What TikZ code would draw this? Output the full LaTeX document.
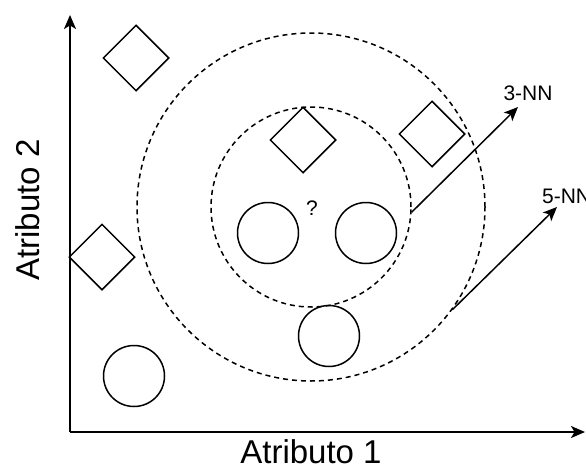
\documentclass[tikz,border=0pt]{standalone}
\usepackage{fontspec}
\setmainfont{Liberation Sans}
\usetikzlibrary{shapes.geometric,arrows.meta}

\begin{document}
\begin{tikzpicture}[x=1pt, y=-1pt, line width=1.5pt,
  diam/.style={draw, diamond, aspect=1, minimum size=66pt, inner sep=0pt},
  pt/.style={draw, circle, minimum size=61pt, inner sep=0pt},
  ring/.style={draw, circle, dash pattern=on 5pt off 4pt, inner sep=0pt},
  arr/.style={-{Stealth[length=14pt,width=12pt,inset=3.5pt]}},
  small/.style={font=\fontsize{21}{25}\selectfont},
  big/.style={font=\fontsize{33}{40}\selectfont}]
  \useasboundingbox (0,0) rectangle (586,471);

  % axes
  \coordinate (o) at (70,432);
  \coordinate (ytop) at (70,15);
  \coordinate (xend) at (585,432);
  \draw[arr] (o) -- (ytop);
  \draw[arr] (o) -- (xend);
  \node[big] (xlab) at (311,452) {Atributo 1};
  \node[big, rotate=90] (ylab) at (28,210) {Atributo 2};

  % neighbourhoods
  \node[ring, minimum size=348pt] (knn5) at (311,207) {};
  \node[ring, minimum size=200pt] (knn3) at (311,207) {};

  % class A
  \node[diam] (d1) at (136,58) {};
  \node[diam] (d2) at (102,257) {};
  \node[diam] (d3) at (303,140) {};
  \node[diam] (d4) at (432,134) {};

  % class B
  \node[pt] (c1) at (268,233) {};
  \node[pt] (c2) at (366,233) {};
  \node[pt] (c3) at (329,336) {};
  \node[pt] (c4) at (134,376) {};

  \node[small] (q) at (312,208) {?};

  % k labels
  \node[small] (l3) at (528,93) {3-NN};
  \node[small, anchor=west] (l5) at (538,196) {5-NN};
  \coordinate (t3) at (518,107);
  \coordinate (t5) at (557,207);
  \draw[arr] (knn3.-3) -- (t3);
  \draw[arr] (knn5.-36) -- (t5);
\end{tikzpicture}
\end{document}
